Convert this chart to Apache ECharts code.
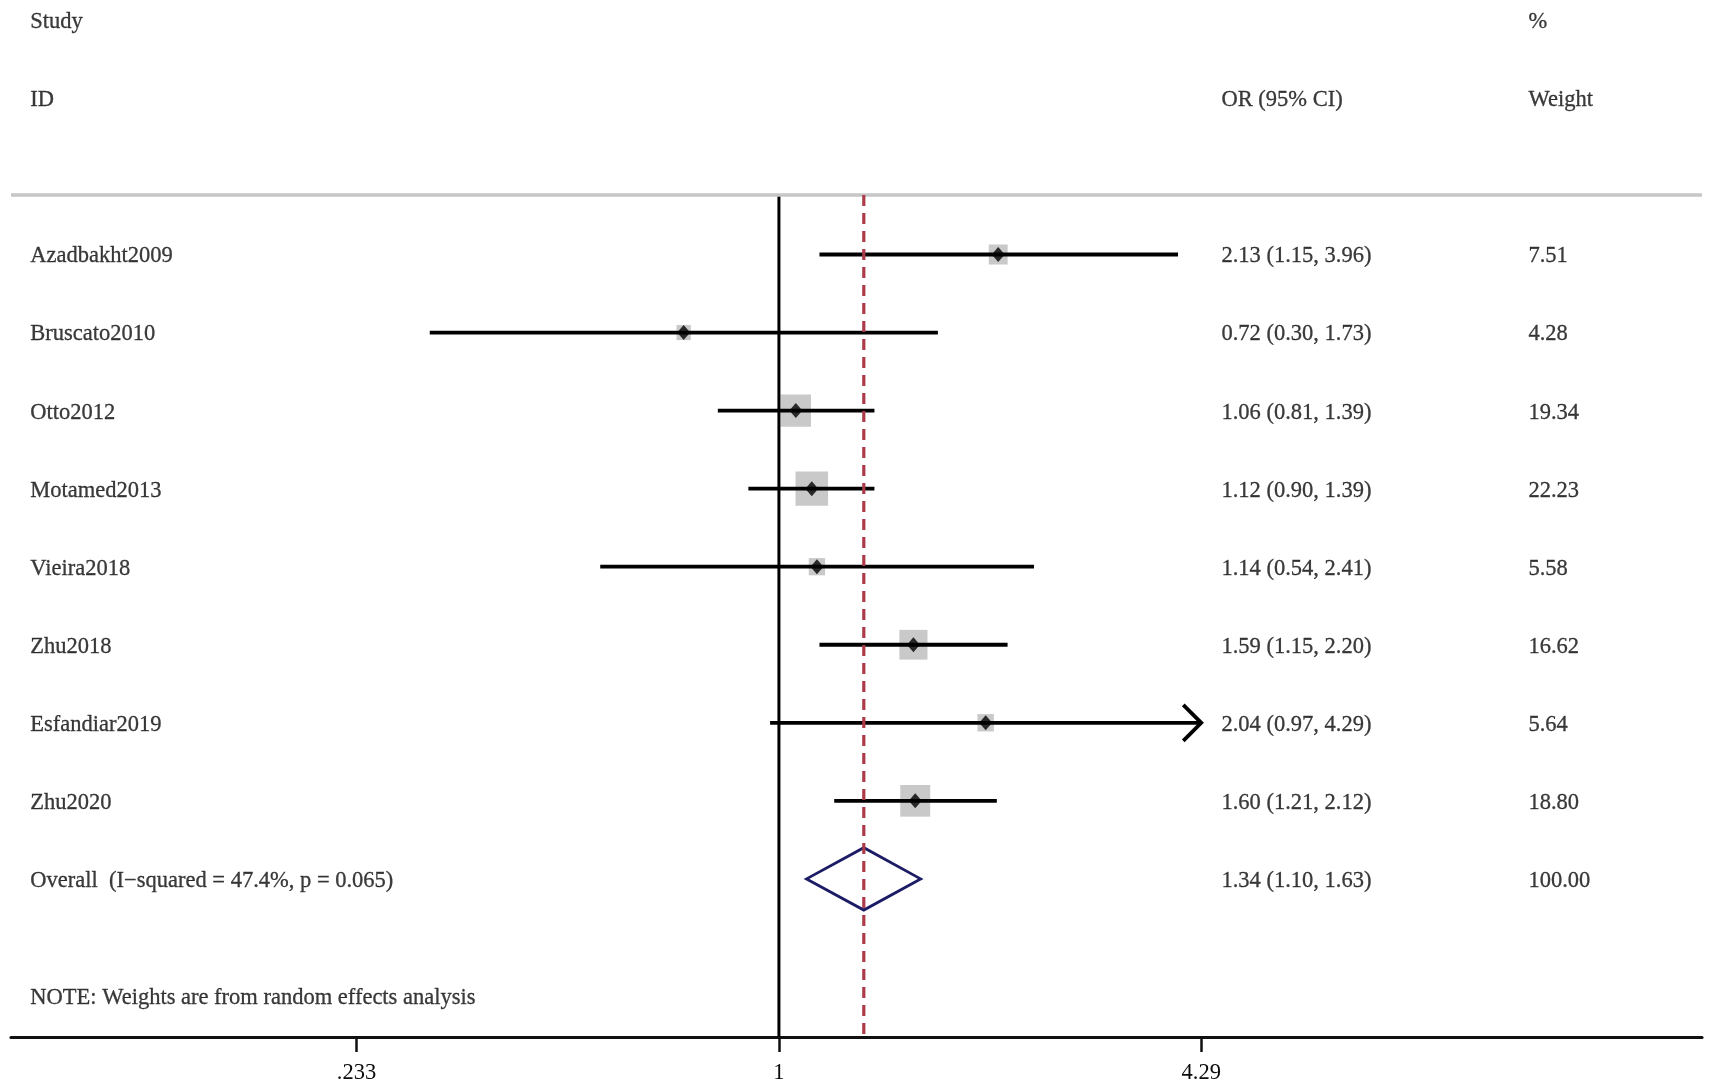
<!DOCTYPE html>
<html>
<head>
<meta charset="utf-8">
<title>Forest plot</title>
<script src="https://cdn.jsdelivr.net/npm/echarts@6/dist/echarts.min.js"></script>
<style>
html, body { margin: 0; padding: 0; background: #fff; }
#forest-chart { width: 1713px; height: 1090px; }
</style>
</head>
<body>
<div id="forest-chart"></div>
<script>
// data
var studies = ['Azadbakht2009', 'Bruscato2010', 'Otto2012', 'Motamed2013', 'Vieira2018', 'Zhu2018', 'Esfandiar2019', 'Zhu2020'];
var oddsRatio = [2.13, 0.72, 1.06, 1.12, 1.14, 1.59, 2.04, 1.60];
var ciLow = [1.15, 0.30, 0.81, 0.90, 0.54, 1.15, 0.97, 1.21];
var ciHigh = [3.96, 1.73, 1.39, 1.39, 2.41, 2.20, 4.29, 2.12];
var weights = [7.51, 4.28, 19.34, 22.23, 5.58, 16.62, 5.64, 18.80];
var overallLabel = 'Overall  (I\u2212squared = 47.4%, p = 0.065)';
var overall = [1.34, 1.10, 1.63];   // OR, low, high
var overallWeight = 100.00;
var tickValues = [0.233, 1, 4.29];
var tickLabels = ['.233', '1', '4.29'];
var note = 'NOTE: Weights are from random effects analysis';

// layout (x in ln(OR) units, y in row units)
var X_MIN = -2.648, X_MAX = 3.183;
var Y_MIN = -3.261, Y_MAX = 10.026;
var RULE_Y = -0.762;
var COL_STUDY = -2.583, COL_OR = 1.524, COL_WT = 2.583;
var FONT = 'Liberation Serif';
var TXT = '#0a0a0a';
var FS = 22.5;

function fmtCI(o, l, h) {
    return o.toFixed(2) + ' (' + l.toFixed(2) + ', ' + h.toFixed(2) + ')';
}

var overallRow = studies.length;
var noteRow = overallRow + 1.5;
var ln = Math.log;
var axisMaxTick = tickValues[tickValues.length - 1];

var textData = [
    {name: 'Study', value: [COL_STUDY, -3]},
    {name: 'ID', value: [COL_STUDY, -2]},
    {name: 'OR (95% CI)', value: [COL_OR, -2]},
    {name: '%', value: [COL_WT, -3]},
    {name: 'Weight', value: [COL_WT, -2]}
];
var boxData = [], pointData = [], ciData = [];
for (var i = 0; i < studies.length; i++) {
    textData.push({name: studies[i], value: [COL_STUDY, i]});
    textData.push({name: fmtCI(oddsRatio[i], ciLow[i], ciHigh[i]), value: [COL_OR, i]});
    textData.push({name: weights[i].toFixed(2), value: [COL_WT, i]});
    boxData.push([ln(oddsRatio[i]), i]);
    pointData.push([ln(oddsRatio[i]), i]);
    ciData.push([ln(ciLow[i]), ln(ciHigh[i]), i, ciHigh[i] >= axisMaxTick ? 1 : 0]);
}
textData.push({name: overallLabel, value: [COL_STUDY, overallRow]});
textData.push({name: fmtCI(overall[0], overall[1], overall[2]), value: [COL_OR, overallRow]});
textData.push({name: overallWeight.toFixed(2), value: [COL_WT, overallRow]});
textData.push({name: note, value: [COL_STUDY, noteRow]});

var chart = echarts.init(document.getElementById('forest-chart'));
var option = {
    animation: false,
    backgroundColor: '#fff',
    grid: {left: 11, right: 11, top: 0, bottom: 53},
    xAxis: {
        type: 'value',
        min: X_MIN,
        max: X_MAX,
        splitLine: {show: false},
        axisLine: {show: true, onZero: false, lineStyle: {color: '#111', width: 3.2}},
        axisTick: {
            show: true,
            length: 15,
            lineStyle: {color: '#111', width: 2.5},
            customValues: tickValues.map(ln)
        },
        axisLabel: {
            margin: 25,
            color: TXT,
            fontFamily: FONT,
            fontSize: FS,
            customValues: tickValues.map(ln),
            formatter: function (v) {
                for (var k = 0; k < tickValues.length; k++) {
                    if (Math.abs(ln(tickValues[k]) - v) < 1e-6) return tickLabels[k];
                }
                return '';
            }
        }
    },
    yAxis: {
        type: 'value',
        inverse: true,
        min: Y_MIN,
        max: Y_MAX,
        show: false
    },
    series: [
        {
            // grey weight boxes, area ~ weight
            type: 'scatter',
            symbol: 'rect',
            data: boxData,
            symbolSize: function (val, params) {
                var s = Math.sqrt(weights[params.dataIndex]);
                return [6.9 * s, 7.3 * s];
            },
            itemStyle: {color: '#bcbcbc'},
            silent: true,
            z: 2
        },
        {
            // confidence intervals
            type: 'custom',
            data: ciData,
            renderItem: function (params, api) {
                var a = api.coord([api.value(0), api.value(2)]);
                var b = api.coord([api.value(1), api.value(2)]);
                var style = {stroke: '#000', lineWidth: 3.8, fill: null};
                var kids = [{type: 'line', shape: {x1: a[0], y1: a[1], x2: b[0], y2: b[1]}, style: style}];
                if (api.value(3)) {
                    kids.push({
                        type: 'polyline',
                        shape: {points: [[b[0] - 18, b[1] - 18], [b[0], b[1]], [b[0] - 18, b[1] + 18]]},
                        style: style
                    });
                }
                return {type: 'group', children: kids};
            },
            silent: true,
            z: 3
        },
        {
            // overall diamond
            type: 'custom',
            data: [[ln(overall[1]), ln(overall[0]), ln(overall[2]), overallRow]],
            renderItem: function (params, api) {
                var y = api.value(3);
                var pts = [
                    api.coord([api.value(0), y]),
                    api.coord([api.value(1), y - 0.4]),
                    api.coord([api.value(2), y]),
                    api.coord([api.value(1), y + 0.4])
                ];
                return {
                    type: 'polygon',
                    shape: {points: pts},
                    style: {stroke: '#1b1b66', lineWidth: 2.8, fill: null}
                };
            },
            silent: true,
            z: 3
        },
        {
            // null line at OR = 1
            type: 'line',
            data: [[0, RULE_Y], [0, Y_MAX]],
            symbol: 'none',
            lineStyle: {color: '#000', width: 3},
            silent: true,
            z: 4
        },
        {
            // pooled estimate, dashed
            type: 'line',
            data: [[ln(overall[0]), RULE_Y], [ln(overall[0]), Y_MAX]],
            symbol: 'none',
            lineStyle: {color: '#ad3a48', width: 3.2, type: [11, 7]},
            silent: true,
            z: 5
        },
        {
            // point estimates
            type: 'scatter',
            symbol: 'diamond',
            symbolSize: [13, 15],
            data: pointData,
            itemStyle: {color: '#000'},
            silent: true,
            z: 6
        },
        {
            // all text columns + top rule
            type: 'scatter',
            symbolSize: 1,
            itemStyle: {color: 'transparent'},
            data: textData,
            label: {
                show: true,
                position: 'right',
                distance: 0,
                offset: [0, 2],
                formatter: function (p) { return p.name; },
                color: TXT,
                textBorderColor: TXT,
                textBorderWidth: 0.3,
                fontFamily: FONT,
                fontSize: FS
            },
            markLine: {
                silent: true,
                symbol: 'none',
                label: {show: false},
                lineStyle: {color: '#c6c6c6', width: 3.5, type: 'solid'},
                data: [{yAxis: RULE_Y}]
            },
            silent: true,
            z: 7
        }
    ]
};
chart.setOption(option);
window.addEventListener('resize', chart.resize);
</script>
</body>
</html>
